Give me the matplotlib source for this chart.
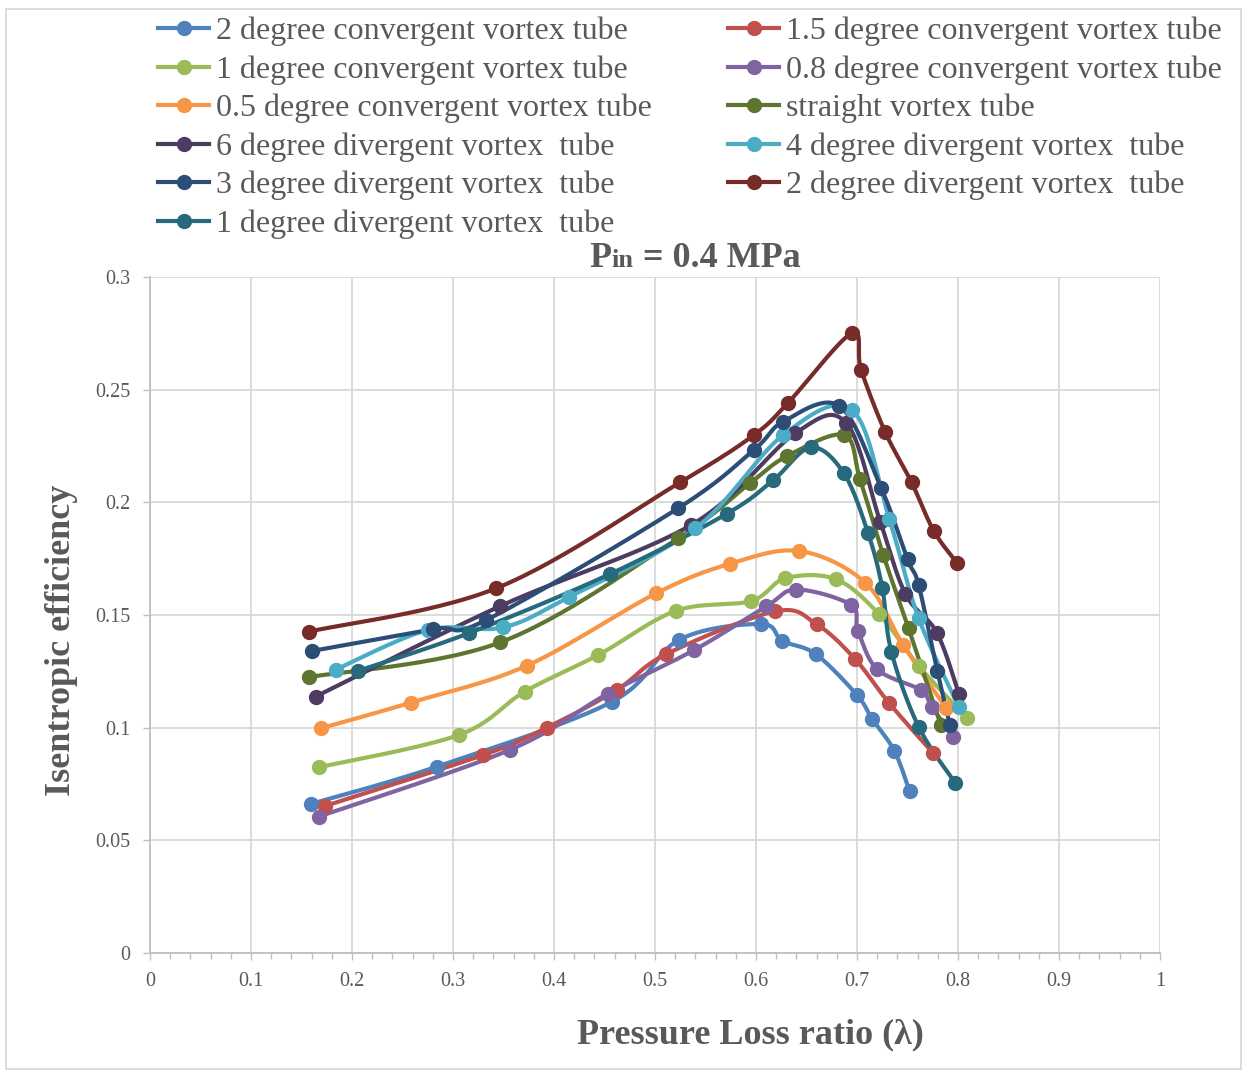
import numpy as np
import matplotlib
matplotlib.use("Agg")
import matplotlib.pyplot as plt
from matplotlib.lines import Line2D
from matplotlib.patches import Rectangle
from matplotlib.ticker import MultipleLocator, FormatStrFormatter
from matplotlib.offsetbox import TextArea, HPacker, AnchoredOffsetbox

# Pressure loss ratio (x) and isentropic efficiency (y) for each vortex tube
conv2_x = [0.159, 0.284, 0.457, 0.524, 0.605, 0.626, 0.659, 0.700, 0.715, 0.737, 0.752]
conv2_y = [0.0661, 0.0827, 0.1114, 0.1390, 0.1460, 0.1385, 0.1327, 0.1145, 0.1039, 0.0897, 0.0719]

conv15_x = [0.173, 0.330, 0.393, 0.462, 0.511, 0.619, 0.660, 0.698, 0.732, 0.775]
conv15_y = [0.0652, 0.0879, 0.1000, 0.1167, 0.1326, 0.1516, 0.1459, 0.1305, 0.1108, 0.0889]

conv1_x = [0.167, 0.306, 0.371, 0.444, 0.521, 0.595, 0.629, 0.679, 0.722, 0.761, 0.809]
conv1_y = [0.0824, 0.0968, 0.1160, 0.1323, 0.1519, 0.1562, 0.1663, 0.1659, 0.1503, 0.1275, 0.1042]

conv08_x = [0.167, 0.356, 0.453, 0.539, 0.610, 0.640, 0.694, 0.701, 0.720, 0.763, 0.774, 0.795]
conv08_y = [0.0605, 0.0901, 0.1150, 0.1345, 0.1538, 0.1613, 0.1545, 0.1431, 0.1259, 0.1167, 0.1093, 0.0960]

conv05_x = [0.169, 0.258, 0.373, 0.501, 0.574, 0.643, 0.708, 0.746, 0.788]
conv05_y = [0.0997, 0.1111, 0.1275, 0.1596, 0.1727, 0.1784, 0.1644, 0.1365, 0.1088]

straight_x = [0.157, 0.347, 0.523, 0.594, 0.631, 0.687, 0.703, 0.726, 0.751, 0.783]
straight_y = [0.1224, 0.1379, 0.1841, 0.2085, 0.2206, 0.2299, 0.2103, 0.1767, 0.1441, 0.1012]

div6_x = [0.164, 0.347, 0.536, 0.639, 0.689, 0.723, 0.748, 0.779, 0.801]
div6_y = [0.1138, 0.1540, 0.1900, 0.2307, 0.2354, 0.1914, 0.1593, 0.1422, 0.1148]

div4_x = [0.184, 0.2755, 0.3495, 0.415, 0.540, 0.627, 0.695, 0.732, 0.761, 0.801]
div4_y = [0.1258, 0.1434, 0.1445, 0.1580, 0.1885, 0.2299, 0.2410, 0.1926, 0.1486, 0.1090]

div3_x = [0.160, 0.280, 0.333, 0.523, 0.598, 0.627, 0.6825, 0.724, 0.750, 0.761, 0.7795, 0.792]
div3_y = [0.1340, 0.1437, 0.1478, 0.1974, 0.2233, 0.2358, 0.2428, 0.2063, 0.1747, 0.1633, 0.1252, 0.1012]

div2_x = [0.157, 0.343, 0.525, 0.598, 0.632, 0.695, 0.704, 0.728, 0.754, 0.776, 0.799]
div2_y = [0.1426, 0.1619, 0.2089, 0.2299, 0.2443, 0.2751, 0.2588, 0.2311, 0.2089, 0.1873, 0.1732]

div1_x = [0.206, 0.316, 0.455, 0.571, 0.617, 0.6545, 0.687, 0.711, 0.725, 0.734, 0.761, 0.797]
div1_y = [0.1252, 0.1420, 0.1681, 0.1949, 0.2098, 0.2244, 0.2129, 0.1863, 0.1621, 0.1337, 0.1004, 0.0756]

labels = [
    "2 degree convergent vortex tube",
    "1.5 degree convergent vortex tube",
    "1 degree convergent vortex tube",
    "0.8 degree convergent vortex tube",
    "0.5 degree convergent vortex tube",
    "straight vortex tube",
    "6 degree divergent vortex  tube",
    "4 degree divergent vortex  tube",
    "3 degree divergent vortex  tube",
    "2 degree divergent vortex  tube",
    "1 degree divergent vortex  tube",
]
colors = ["#4F81BD", "#C0504D", "#9BBB59", "#8064A2", "#F79646", "#5E752F",
          "#4D3B62", "#4BACC6", "#2C4D75", "#772C2A", "#276A7C"]
series = [(conv2_x, conv2_y), (conv15_x, conv15_y), (conv1_x, conv1_y),
          (conv08_x, conv08_y), (conv05_x, conv05_y), (straight_x, straight_y),
          (div6_x, div6_y), (div4_x, div4_y), (div3_x, div3_y),
          (div2_x, div2_y), (div1_x, div1_y)]


def smooth_curve(x, y, n=30):
    """Cubic Bezier smoothing through every point (Excel-style smoothed line)."""
    P = np.column_stack([x, y]).astype(float)
    E = np.vstack([P[0], P, P[-1]])
    t = np.linspace(0, 1, n)[:, None]
    out = []
    for i in range(len(P) - 1):
        p0, p1, p2, p3 = E[i], E[i + 1], E[i + 2], E[i + 3]
        c1 = p1 + (p2 - p0) / 6.0
        c2 = p2 - (p3 - p1) / 6.0
        seg = ((1 - t) ** 3) * p1 + 3 * ((1 - t) ** 2) * t * c1 + 3 * (1 - t) * t ** 2 * c2 + t ** 3 * p2
        out.append(seg if i == 0 else seg[1:])
    S = np.vstack(out)
    return S[:, 0], S[:, 1]


W, H = 1246, 1072
fig = plt.figure(figsize=(W / 100, H / 100), dpi=100)
fig.patch.set_facecolor("white")

serif = "Liberation Serif"
gray_txt = "#595959"
grid_c = "#D9D9D9"

ax = fig.add_axes([150 / W, 1 - 953 / H, 1010 / W, 676 / H])
ax.set_xlim(0, 1)
ax.set_ylim(0, 0.3)

handles = []
for (xs, ys), c, lab in zip(series, colors, labels):
    sx, sy = smooth_curve(xs, ys)
    ax.plot(sx, sy, color=c, lw=3.0, solid_capstyle="round", zorder=3)
    ax.plot(xs, ys, ls="none", marker="o", ms=10, color=c, mec=c, zorder=4)
    handles.append(Line2D([], [], color=c, lw=3.0, marker="o", ms=10, mec=c))

# axes styling
ax.xaxis.set_major_locator(MultipleLocator(0.1))
ax.xaxis.set_minor_locator(MultipleLocator(0.02))
ax.yaxis.set_major_locator(MultipleLocator(0.05))
ax.xaxis.set_major_formatter(FormatStrFormatter("%g"))
ax.yaxis.set_major_formatter(FormatStrFormatter("%g"))
ax.grid(True, which="major", color=grid_c, lw=1.3, zorder=0)
ax.set_axisbelow(True)
for s in ["top", "right"]:
    ax.spines[s].set_visible(False)
for s in ["left", "bottom"]:
    ax.spines[s].set_color("#BFBFBF")
    ax.spines[s].set_linewidth(1.3)
ax.tick_params(axis="both", which="major", direction="out", length=5, width=1.0,
               color="#BFBFBF", labelcolor=gray_txt, labelsize=14.5, pad=9)
ax.tick_params(axis="x", which="minor", direction="out", length=4, width=1.0, color="#BFBFBF")
for lbl in ax.get_xticklabels() + ax.get_yticklabels():
    lbl.set_family(serif)

fig.text(750 / W, 1 - 1035 / H, "Pressure Loss ratio (\u03bb)", ha="center", va="center",
         family=serif, weight="bold", size=26, color=gray_txt)
fig.text(62 / W, 1 - 640 / H, "Isentropic efficiency", ha="center", va="center",
         rotation=90, family=serif, weight="bold", size=26, color=gray_txt)

# title with reduced-size "in"
tp = dict(family=serif, weight="bold", color=gray_txt)
title_box = HPacker(children=[TextArea("P", textprops=dict(size=26, **tp)),
                              TextArea("in", textprops=dict(size=19, **tp)),
                              TextArea(" = 0.4 MPa", textprops=dict(size=26, **tp))],
                    align="baseline", pad=0, sep=0)
fig.add_artist(AnchoredOffsetbox(loc="center", child=title_box, pad=0, borderpad=0,
                                 bbox_to_anchor=(695 / W, 1 - 258 / H),
                                 bbox_transform=fig.transFigure, frameon=False))

# legend: column-major ordering to reproduce row-wise reading
order = [0, 2, 4, 6, 8, 10, 1, 3, 5, 7, 9]
leg = fig.legend([handles[i] for i in order], [labels[i] for i in order], ncol=2,
                 loc="upper left", bbox_to_anchor=(158 / W, 1 - 17 / H), frameon=False,
                 prop=dict(family=serif, size=23), labelcolor=gray_txt,
                 handlelength=1.6, handletextpad=0.2, columnspacing=2.4,
                 labelspacing=0.28, borderaxespad=0, borderpad=0)

# chart outer border
fig.add_artist(Rectangle((6 / W, 3 / H), 1235 / W, 1060 / H, transform=fig.transFigure,
                         fill=False, ec=grid_c, lw=1.3))

fig.savefig("out.png", dpi=100)
